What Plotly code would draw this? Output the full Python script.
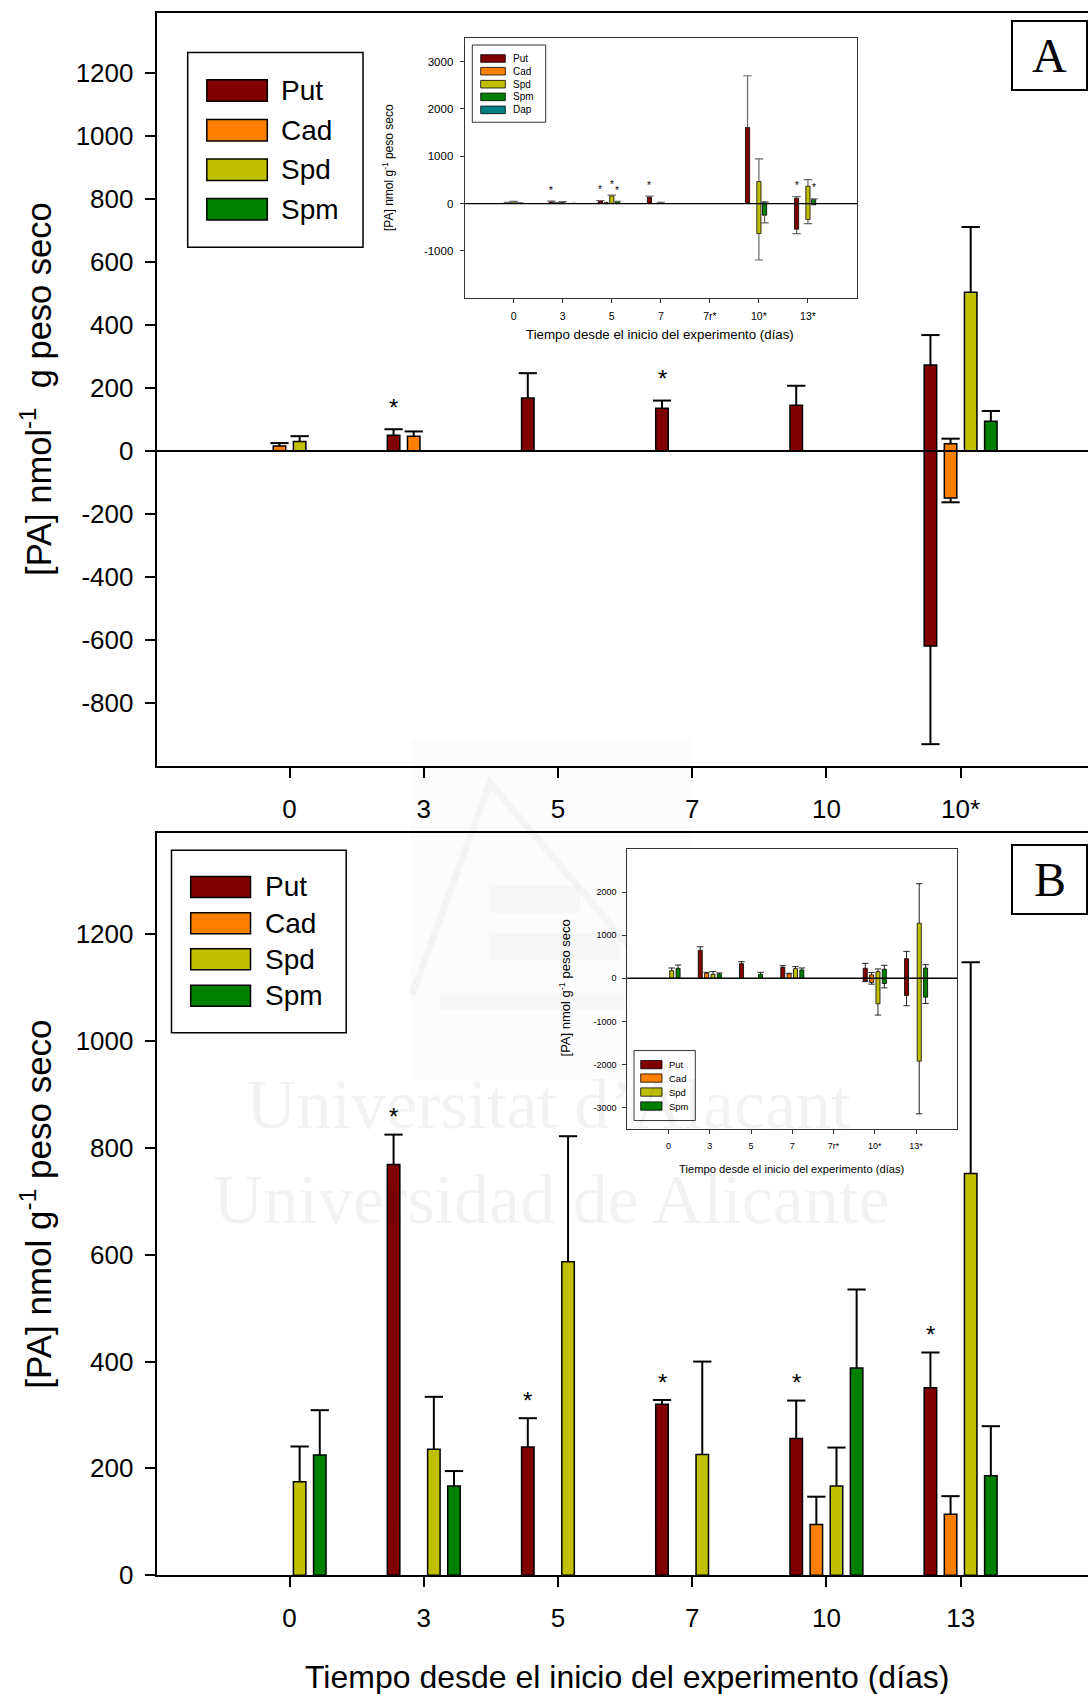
import plotly.graph_objects as go

W, H = 1088, 1694
# vertical fit factor applied to the pixel layout grid below
Y_FIT = 1.0088

# species colours
PUT, CAD, SPD, SPM, DAP = "#800000", "#ff8000", "#c0c000", "#008000", "#008080"
SANS = "Liberation Sans, Arial, sans-serif"
SERIF = "Liberation Serif, Times New Roman, serif"

# ---------------- Panel A: main chart ----------------
days_a = ["0", "3", "5", "7", "10", "10*"]
a_put = [None, 50, 168, 136, 145, 273]
a_put_neg = [0, 0, 0, 0, 0, -619]
a_put_sd = [0, 19, 79, 24, 62, 95]
a_put_sdn = [0, 0, 0, 0, 0, 312]
a_put_sig = [0, 1, 0, 1, 0, 0]
a_cad = [16, 47, None, None, None, 23]
a_cad_neg = [0, 0, 0, 0, 0, -149]
a_cad_sd = [9, 15, 0, 0, 0, 16]
a_cad_sdn = [0, 0, 0, 0, 0, 14]
a_spd = [30, None, None, None, None, 504]
a_spd_neg = [0, 0, 0, 0, 0, 0]
a_spd_sd = [17, 0, 0, 0, 0, 207]
a_spd_sdn = [0, 0, 0, 0, 0, 0]
a_spm = [None, None, None, None, None, 94]
a_spm_neg = [0, 0, 0, 0, 0, 0]
a_spm_sd = [0, 0, 0, 0, 0, 33]
a_spm_sdn = [0, 0, 0, 0, 0, 0]
a_yticks = [-800, -600, -400, -200, 0, 200, 400, 600, 800, 1000, 1200]

# ---------------- Panel A: inset ----------------
days_ia = ["0", "3", "5", "7", "7r*", "10*", "13*"]
ia_put = [None, 40, 56, 134, None, 1607, 112]
ia_put_neg = [0, 0, 0, 0, 0, 0, -543]
ia_put_sd = [0, 12, 8, 21, 0, 1091, 36]
ia_put_sdn = [0, 0, 0, 0, 0, 0, 91]
ia_put_sig = [0, 1, 1, 1, 0, 0, 1]
ia_cad = [18, 15, 20, None, None, None, None]
ia_cad_neg = [0, 0, 0, 0, 0, 0, 0]
ia_cad_sd = [8, 6, 0, 0, 0, 0, 0]
ia_cad_sdn = [0, 0, 0, 0, 0, 0, 0]
ia_spd = [35, 25, 162, 15, None, 465, 366]
ia_spd_neg = [0, 0, 0, 0, 0, -634, -338]
ia_spd_sd = [12, 15, 14, 12, 0, 478, 141]
ia_spd_sdn = [0, 0, 0, 0, 0, 558, 85]
ia_spd_sig = [0, 0, 1, 0, 0, 0, 0]
ia_spm = [10, None, 42, None, None, 27, 85]
ia_spm_neg = [0, 0, 0, 0, 0, -247, -28]
ia_spm_sd = [5, 0, 6, 0, 0, 10, 12]
ia_spm_sdn = [0, 0, 0, 0, 0, 163, 0]
ia_spm_sig = [0, 0, 1, 0, 0, 0, 1]
ia_dap = [None, 6, None, None, None, None, None]
ia_dap_neg = [0, 0, 0, 0, 0, 0, 0]
ia_dap_sd = [0, 0, 0, 0, 0, 0, 0]
ia_dap_sdn = [0, 0, 0, 0, 0, 0, 0]
ia_yticks = [-1000, 0, 1000, 2000, 3000]

# ---------------- Panel B: main chart ----------------
days_b = ["0", "3", "5", "7", "10", "13"]
b_put = [None, 769, 240, 320, 256, 351]
b_put_sd = [0, 56, 54, 8, 71, 66]
b_put_sig = [0, 1, 1, 1, 1, 1]
b_cad = [None, None, None, None, 95, 114]
b_cad_sd = [0, 0, 0, 0, 52, 34]
b_spd = [175, 236, 587, 226, 167, 752]
b_spd_sd = [66, 98, 235, 174, 72, 396]
b_spm = [225, 167, None, None, 388, 186]
b_spm_sd = [84, 28, 0, 0, 147, 93]
b_zero = [0, 0, 0, 0, 0, 0]
b_yticks = [0, 200, 400, 600, 800, 1000, 1200]

# ---------------- Panel B: inset ----------------
days_ib = ["0", "3", "5", "7", "7r*", "10*", "13*"]
ib_put = [None, 646, 338, 254, None, 231, 454]
ib_put_neg = [0, 0, 0, 0, 0, -69, -400]
ib_put_sd = [0, 84, 46, 38, 0, 115, 169]
ib_put_sdn = [0, 0, 0, 0, 0, 10, 238]
ib_cad = [None, 115, None, 100, None, 77, None]
ib_cad_neg = [0, 0, 0, 0, 0, -100, 0]
ib_cad_sd = [0, 23, 0, 15, 0, 54, 0]
ib_cad_sdn = [0, 0, 0, 0, 0, 38, 0]
ib_spd = [176, 92, None, 223, None, 154, 1277]
ib_spd_neg = [0, 0, 0, 0, 0, -592, -1923]
ib_spd_sd = [62, 62, 0, 46, 0, 61, 915]
ib_spd_sdn = [0, 0, 0, 0, 0, 262, 1222]
ib_spm = [230, 100, 92, 192, None, 208, 238]
ib_spm_neg = [0, 0, 0, 0, 0, -123, -438]
ib_spm_sd = [77, 23, 46, 46, 0, 92, 77]
ib_spm_sdn = [0, 0, 0, 0, 0, 100, 147]
ib_yticks = [-3000, -2000, -1000, 0, 1000, 2000]

fig = go.Figure()


def px(x):
    return x / W


def py(y):
    return 1 - y * Y_FIT / H


def draw_bars(xa, ya, series, slot, bar_w, cap, whisk_col, whisk_w, bar_lw,
              star_size, star_shift):
    """Floating bars (positive part above, negative part below zero) with
    one-sided whiskers at each end and significance asterisks."""
    mid = (len(series) - 1) / 2
    for k, (name, color, hi, lo, sd, sdn, sig) in enumerate(series):
        off = (k - mid) * slot
        xs, base, size, wx, wy = [], [], [], [], []
        for i, v in enumerate(hi):
            if v is None:
                continue
            x = i + off
            xs.append(x)
            base.append(lo[i])
            size.append(v - lo[i])
            if sd[i]:
                t = v + sd[i]
                wx += [x, x, None, x - cap, x + cap, None]
                wy += [v, t, None, t, t, None]
            if sdn[i]:
                b = lo[i] - sdn[i]
                wx += [x, x, None, x - cap, x + cap, None]
                wy += [lo[i], b, None, b, b, None]
            if sig and sig[i]:
                fig.add_annotation(x=x, y=v + sd[i], xref=xa, yref=ya,
                                   text="*", showarrow=False, yanchor="middle",
                                   yshift=star_shift,
                                   font=dict(family=SANS, size=star_size, color="black"))
        fig.add_trace(go.Bar(
            x=xs, y=size, base=base, width=bar_w, name=name,
            xaxis=xa, yaxis=ya, opacity=1, showlegend=False,
            marker=dict(color=color, line=dict(color="black", width=bar_lw))))
        if wx:
            fig.add_trace(go.Scatter(
                x=wx, y=wy, mode="lines", xaxis=xa, yaxis=ya, showlegend=False,
                hoverinfo="skip", line=dict(color=whisk_col, width=whisk_w)))


draw_bars("x", "y", [
    ("Put", PUT, a_put, a_put_neg, a_put_sd, a_put_sdn, a_put_sig),
    ("Cad", CAD, a_cad, a_cad_neg, a_cad_sd, a_cad_sdn, None),
    ("Spd", SPD, a_spd, a_spd_neg, a_spd_sd, a_spd_sdn, None),
    ("Spm", SPM, a_spm, a_spm_neg, a_spm_sd, a_spm_sdn, None),
], slot=0.15, bar_w=0.093, cap=0.068, whisk_col="black", whisk_w=2,
    bar_lw=1.5, star_size=24, star_shift=22)

draw_bars("x2", "y2", [
    ("Put", PUT, ia_put, ia_put_neg, ia_put_sd, ia_put_sdn, ia_put_sig),
    ("Cad", CAD, ia_cad, ia_cad_neg, ia_cad_sd, ia_cad_sdn, None),
    ("Spd", SPD, ia_spd, ia_spd_neg, ia_spd_sd, ia_spd_sdn, ia_spd_sig),
    ("Spm", SPM, ia_spm, ia_spm_neg, ia_spm_sd, ia_spm_sdn, ia_spm_sig),
    ("Dap", DAP, ia_dap, ia_dap_neg, ia_dap_sd, ia_dap_sdn, None),
], slot=0.116, bar_w=0.085, cap=0.085, whisk_col="#666666", whisk_w=1.2,
    bar_lw=0.8, star_size=10, star_shift=11)

draw_bars("x3", "y3", [
    ("Put", PUT, b_put, b_zero, b_put_sd, b_zero, b_put_sig),
    ("Cad", CAD, b_cad, b_zero, b_cad_sd, b_zero, None),
    ("Spd", SPD, b_spd, b_zero, b_spd_sd, b_zero, None),
    ("Spm", SPM, b_spm, b_zero, b_spm_sd, b_zero, None),
], slot=0.15, bar_w=0.093, cap=0.068, whisk_col="black", whisk_w=2,
    bar_lw=1.5, star_size=24, star_shift=18)

draw_bars("x4", "y4", [
    ("Put", PUT, ib_put, ib_put_neg, ib_put_sd, ib_put_sdn, None),
    ("Cad", CAD, ib_cad, ib_cad_neg, ib_cad_sd, ib_cad_sdn, None),
    ("Spd", SPD, ib_spd, ib_spd_neg, ib_spd_sd, ib_spd_sdn, None),
    ("Spm", SPM, ib_spm, ib_spm_neg, ib_spm_sd, ib_spm_sdn, None),
], slot=0.154, bar_w=0.098, cap=0.077, whisk_col="#222222", whisk_w=1,
    bar_lw=0.8, star_size=10, star_shift=11)


def main_x(domain, anchor, labels):
    return dict(domain=domain, anchor=anchor, range=[-0.99, 5.949],
                tickvals=list(range(len(labels))), ticktext=labels,
                ticks="outside", ticklen=10, tickwidth=2, tickcolor="black",
                ticklabelstandoff=9,
                showline=True, linewidth=2, linecolor="black", mirror=True,
                showgrid=False, zeroline=False,
                tickfont=dict(family=SANS, size=26, color="black"))


def main_y(domain, anchor, rng, vals):
    return dict(domain=domain, anchor=anchor, range=rng, tickvals=vals,
                ticktext=[str(v) for v in vals],
                ticks="outside", ticklen=10, tickwidth=2, tickcolor="black",
                ticklabelstandoff=6,
                showline=True, linewidth=2, linecolor="black", mirror=False,
                showgrid=False, zeroline=False,
                tickfont=dict(family=SANS, size=26, color="black"))


def inset_x(domain, anchor, labels, size):
    return dict(domain=domain, anchor=anchor, range=[-1, 7],
                tickvals=list(range(len(labels))), ticktext=labels,
                ticks="outside", ticklen=4, tickwidth=1, tickcolor="#333333",
                ticklabelstandoff=4,
                showline=True, linewidth=1, linecolor="#333333", mirror=True,
                showgrid=False, zeroline=False,
                tickfont=dict(family=SANS, size=size, color="black"))


def inset_y(domain, anchor, rng, vals, size):
    return dict(domain=domain, anchor=anchor, range=rng, tickvals=vals,
                ticktext=[str(v) for v in vals],
                ticks="outside", ticklen=4, tickwidth=1, tickcolor="#333333",
                ticklabelstandoff=4,
                showline=True, linewidth=1, linecolor="#333333", mirror=True,
                showgrid=False, zeroline=False,
                tickfont=dict(family=SANS, size=size, color="black"))


fig.update_layout(
    width=W, height=H, autosize=False,
    margin=dict(l=0, r=0, t=0, b=0),
    paper_bgcolor="white", plot_bgcolor="white",
    barmode="overlay", showlegend=False,
    xaxis=main_x([px(156.7), 1.0], "y", days_a),
    yaxis=main_y([py(766), py(13.2)], "x", [-1000, 1390], a_yticks),
    xaxis2=inset_x([px(464.6), px(857)], "y2", days_ia, 10.5),
    yaxis2=inset_y([py(298.3), py(37.8)], "x2", [-2000, 3500], ia_yticks, 11.5),
    xaxis3=main_x([px(156.7), 1.0], "y3", days_b),
    yaxis3=main_y([py(1575.4), py(833)], "x3", [0, 1390], b_yticks),
    xaxis4=inset_x([px(627.3), px(957.3)], "y4", days_ib, 9),
    yaxis4=inset_y([py(1129.3), py(849)], "x4", [-3500, 3000], ib_yticks, 9),
)

shapes = []
annos = []

# zero reference lines
for xr, yr, w in [("x domain", "y", 2), ("x2 domain", "y2", 1.3), ("x4 domain", "y4", 1.3)]:
    shapes.append(dict(type="line", xref=xr, yref=yr, x0=0, x1=1, y0=0, y1=0,
                       line=dict(color="black", width=w), layer="above"))

# panel letters
for letter, top, bot in [("A", 21, 90), ("B", 845, 914)]:
    shapes.append(dict(type="rect", xref="paper", yref="paper",
                       x0=px(1012), x1=px(1087), y0=py(bot), y1=py(top),
                       line=dict(color="black", width=2), fillcolor="white"))
    annos.append(dict(x=px(1049.5), y=py((top + bot) / 2), xref="paper", yref="paper",
                      text=letter, showarrow=False, xanchor="center", yanchor="middle",
                      font=dict(family=SERIF, size=48, color="black")))


def legend(box, sw_x, sw_h, rows, text_x, size, lw):
    x0, x1, y0, y1 = box
    shapes.append(dict(type="rect", xref="paper", yref="paper",
                       x0=px(x0), x1=px(x1), y0=py(y1), y1=py(y0),
                       line=dict(color="black", width=lw), fillcolor="white"))
    for name, color, yc in rows:
        shapes.append(dict(type="rect", xref="paper", yref="paper",
                           x0=px(sw_x[0]), x1=px(sw_x[1]),
                           y0=py(yc + sw_h / 2), y1=py(yc - sw_h / 2),
                           line=dict(color="black", width=lw), fillcolor=color))
        annos.append(dict(x=px(text_x), y=py(yc), xref="paper", yref="paper",
                          text=name, showarrow=False, xanchor="left", yanchor="middle",
                          font=dict(family=SANS, size=size, color="black")))


legend((187.7, 363, 52.4, 247.2), (206.8, 267.3), 21.5,
       [("Put", PUT, 90.5), ("Cad", CAD, 130.2), ("Spd", SPD, 169.7), ("Spm", SPM, 209.4)],
       279, 28, 1.5)
legend((171.5, 346.2, 850.4, 1032.8), (190.7, 250.5), 21,
       [("Put", PUT, 887), ("Cad", CAD, 923.4), ("Spd", SPD, 959.5), ("Spm", SPM, 995.9)],
       263, 28, 1.5)
legend((472.3, 545.7, 45, 122.3), (480.7, 505.3), 7.6,
       [("Put", PUT, 58.5), ("Cad", CAD, 71.2), ("Spd", SPD, 84.2), ("Spm", SPM, 96.9),
        ("Dap", DAP, 109.9)], 510.5, 10, 0.8)
legend((634, 695.3, 1050.7, 1120.7), (640.7, 662), 8.3,
       [("Put", PUT, 1064.8), ("Cad", CAD, 1078.2), ("Spd", SPD, 1092.2), ("Spm", SPM, 1106.2)],
       666.5, 9.5, 0.8)

# axis titles
y_title_a = "[PA] nmol<sup>-1</sup>  g peso seco"
y_title_b = "[PA] nmol g<sup>-1</sup> peso seco"
x_title = "Tiempo desde el inicio del experimento (días)"
for text, x, y, size, ang in [
    (y_title_a, 36, 389, 34.5, -90),
    (y_title_b, 36, 1205, 35, -90),
    (x_title, 627, 1677, 32, 0),
    (y_title_b, 388, 168, 12, -90),
    (x_title, 660, 334.6, 13.3, 0),
    (y_title_b, 564.6, 988, 13, -90),
    (x_title, 792, 1169.4, 11.2, 0),
]:
    annos.append(dict(x=px(x), y=py(y), xref="paper", yref="paper", text=text,
                      textangle=ang, showarrow=False, xanchor="center", yanchor="middle",
                      font=dict(family=SANS, size=size, color="black")))

# repository watermark (very faint)
shapes.append(dict(type="rect", xref="paper", yref="paper", layer="below",
                   x0=px(410), x1=px(692), y0=py(1080), y1=py(738),
                   line=dict(width=0), fillcolor="rgba(0,0,0,0.012)"))
shapes.append(dict(type="path", xref="paper", yref="paper", layer="below",
                   path="M {} {} L {} {} L {} {}".format(px(412), py(995), px(490), py(783),
                                                         px(690), py(1018)),
                   line=dict(color="rgba(0,0,0,0.03)", width=7)))
for x0, x1, y0, y1 in [(490, 580, 885, 913), (490, 620, 933, 960), (440, 667, 993, 1010)]:
    shapes.append(dict(type="rect", xref="paper", yref="paper", layer="below",
                       x0=px(x0), x1=px(x1), y0=py(y1), y1=py(y0),
                       line=dict(width=0), fillcolor="rgba(0,0,0,0.018)"))
for text, x, y in [("Universitat d\u2019Alacant", 548, 1105), ("Universidad de Alicante", 551, 1200)]:
    annos.append(dict(x=px(x), y=py(y), xref="paper", yref="paper", text=text,
                      showarrow=False, xanchor="center", yanchor="middle",
                      font=dict(family=SERIF, size=70, color="rgba(0,0,0,0.05)")))

fig.update_layout(shapes=shapes)
for a in annos:
    fig.add_annotation(**a)

fig.write_html("out.html", config={"displayModeBar": False})
